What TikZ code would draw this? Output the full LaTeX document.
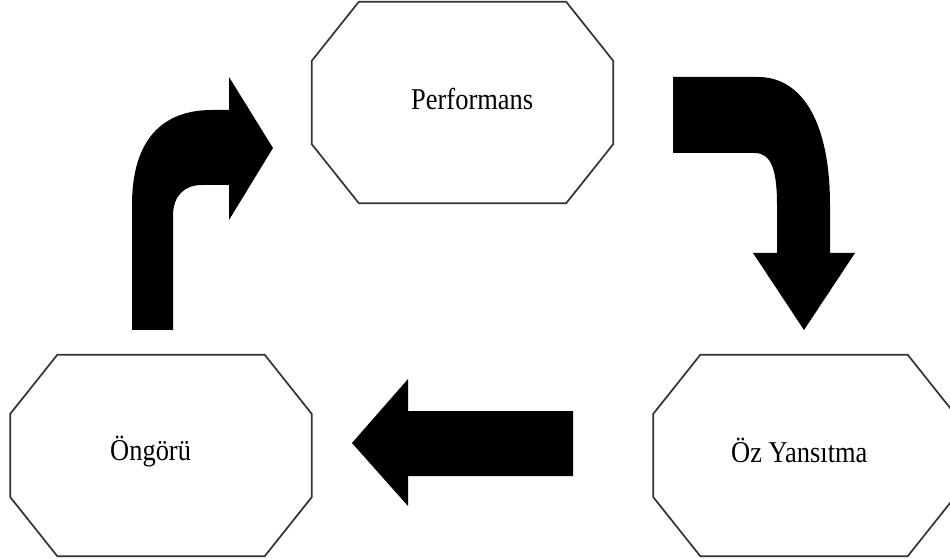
\documentclass[tikz,border=0pt]{standalone}
\usepackage{fontspec}
\setmainfont{Liberation Serif}
\usetikzlibrary{calc}
\tikzset{
  octbox/.style={draw=none, minimum width=301bp, minimum height=201bp, inner sep=0pt},
  octline/.style={draw=black!80, line width=1.7bp, fill=white, line join=miter},
  lbl/.style={anchor=base west, inner sep=0pt, font=\fontsize{27bp}{32bp}\selectfont, text=black},
  blockarrow/.style={fill=black, draw=none}
}
\newcommand{\octdraw}[1]{%
  \draw[octline] ($(#1.north west)+(47,0)$) -- ($(#1.north east)+(-47,0)$)
    -- ($(#1.north east)+(0,59)$) -- ($(#1.south east)+(0,-59)$)
    -- ($(#1.south east)+(-47,0)$) -- ($(#1.south west)+(47,0)$)
    -- ($(#1.south west)+(0,-59)$) -- ($(#1.north west)+(0,59)$) -- cycle;}
\newcommand{\tall}[1]{\scalebox{0.98}[1.12]{#1}}
\begin{document}
\begin{tikzpicture}[x=1bp, y=-1bp]
\useasboundingbox (0,0) rectangle (950,559);
\clip (0,0) rectangle (950,559);
\fill[white] (0,0) rectangle (950,559);
% octagon frames
\node[octbox] (perf) at (462.5,102.5) {};
\node[octbox] (ong) at (161,455.5) {};
\node[octbox] (oz) at (804,455.5) {};
\octdraw{perf}
\octdraw{ong}
\octdraw{oz}
% labels
\node[lbl] (perftxt) at (411,110) {\tall{Performans}};
\node[lbl] (ongtxt) at (110,460) {\tall{Öngörü}};
\node[lbl] (oztxt) at (731,462) {\tall{Öz Yansıtma}};
% block arrows
\fill[blockarrow] (132,330) -- (132,205) .. controls (132,140) and (162,110) .. (212,110)
  -- (229,110) -- (229,77) -- (273,148) -- (229,220) -- (229,185) -- (202,185)
  .. controls (184,185) and (173,196) .. (173,216) -- (173,330) -- cycle;
\fill[blockarrow] (673,77) -- (758,77) .. controls (802,77) and (830,122) .. (830,205)
  -- (830,253) -- (855,253) -- (804,330) -- (753,253) -- (777,253) -- (777,205)
  .. controls (777,172) and (772,153) .. (755,153) -- (673,153) -- cycle;
\fill[blockarrow] (573,411) -- (408,411) -- (408,379) -- (352,443) -- (408,506)
  -- (408,476) -- (573,476) -- cycle;
\end{tikzpicture}
\end{document}
